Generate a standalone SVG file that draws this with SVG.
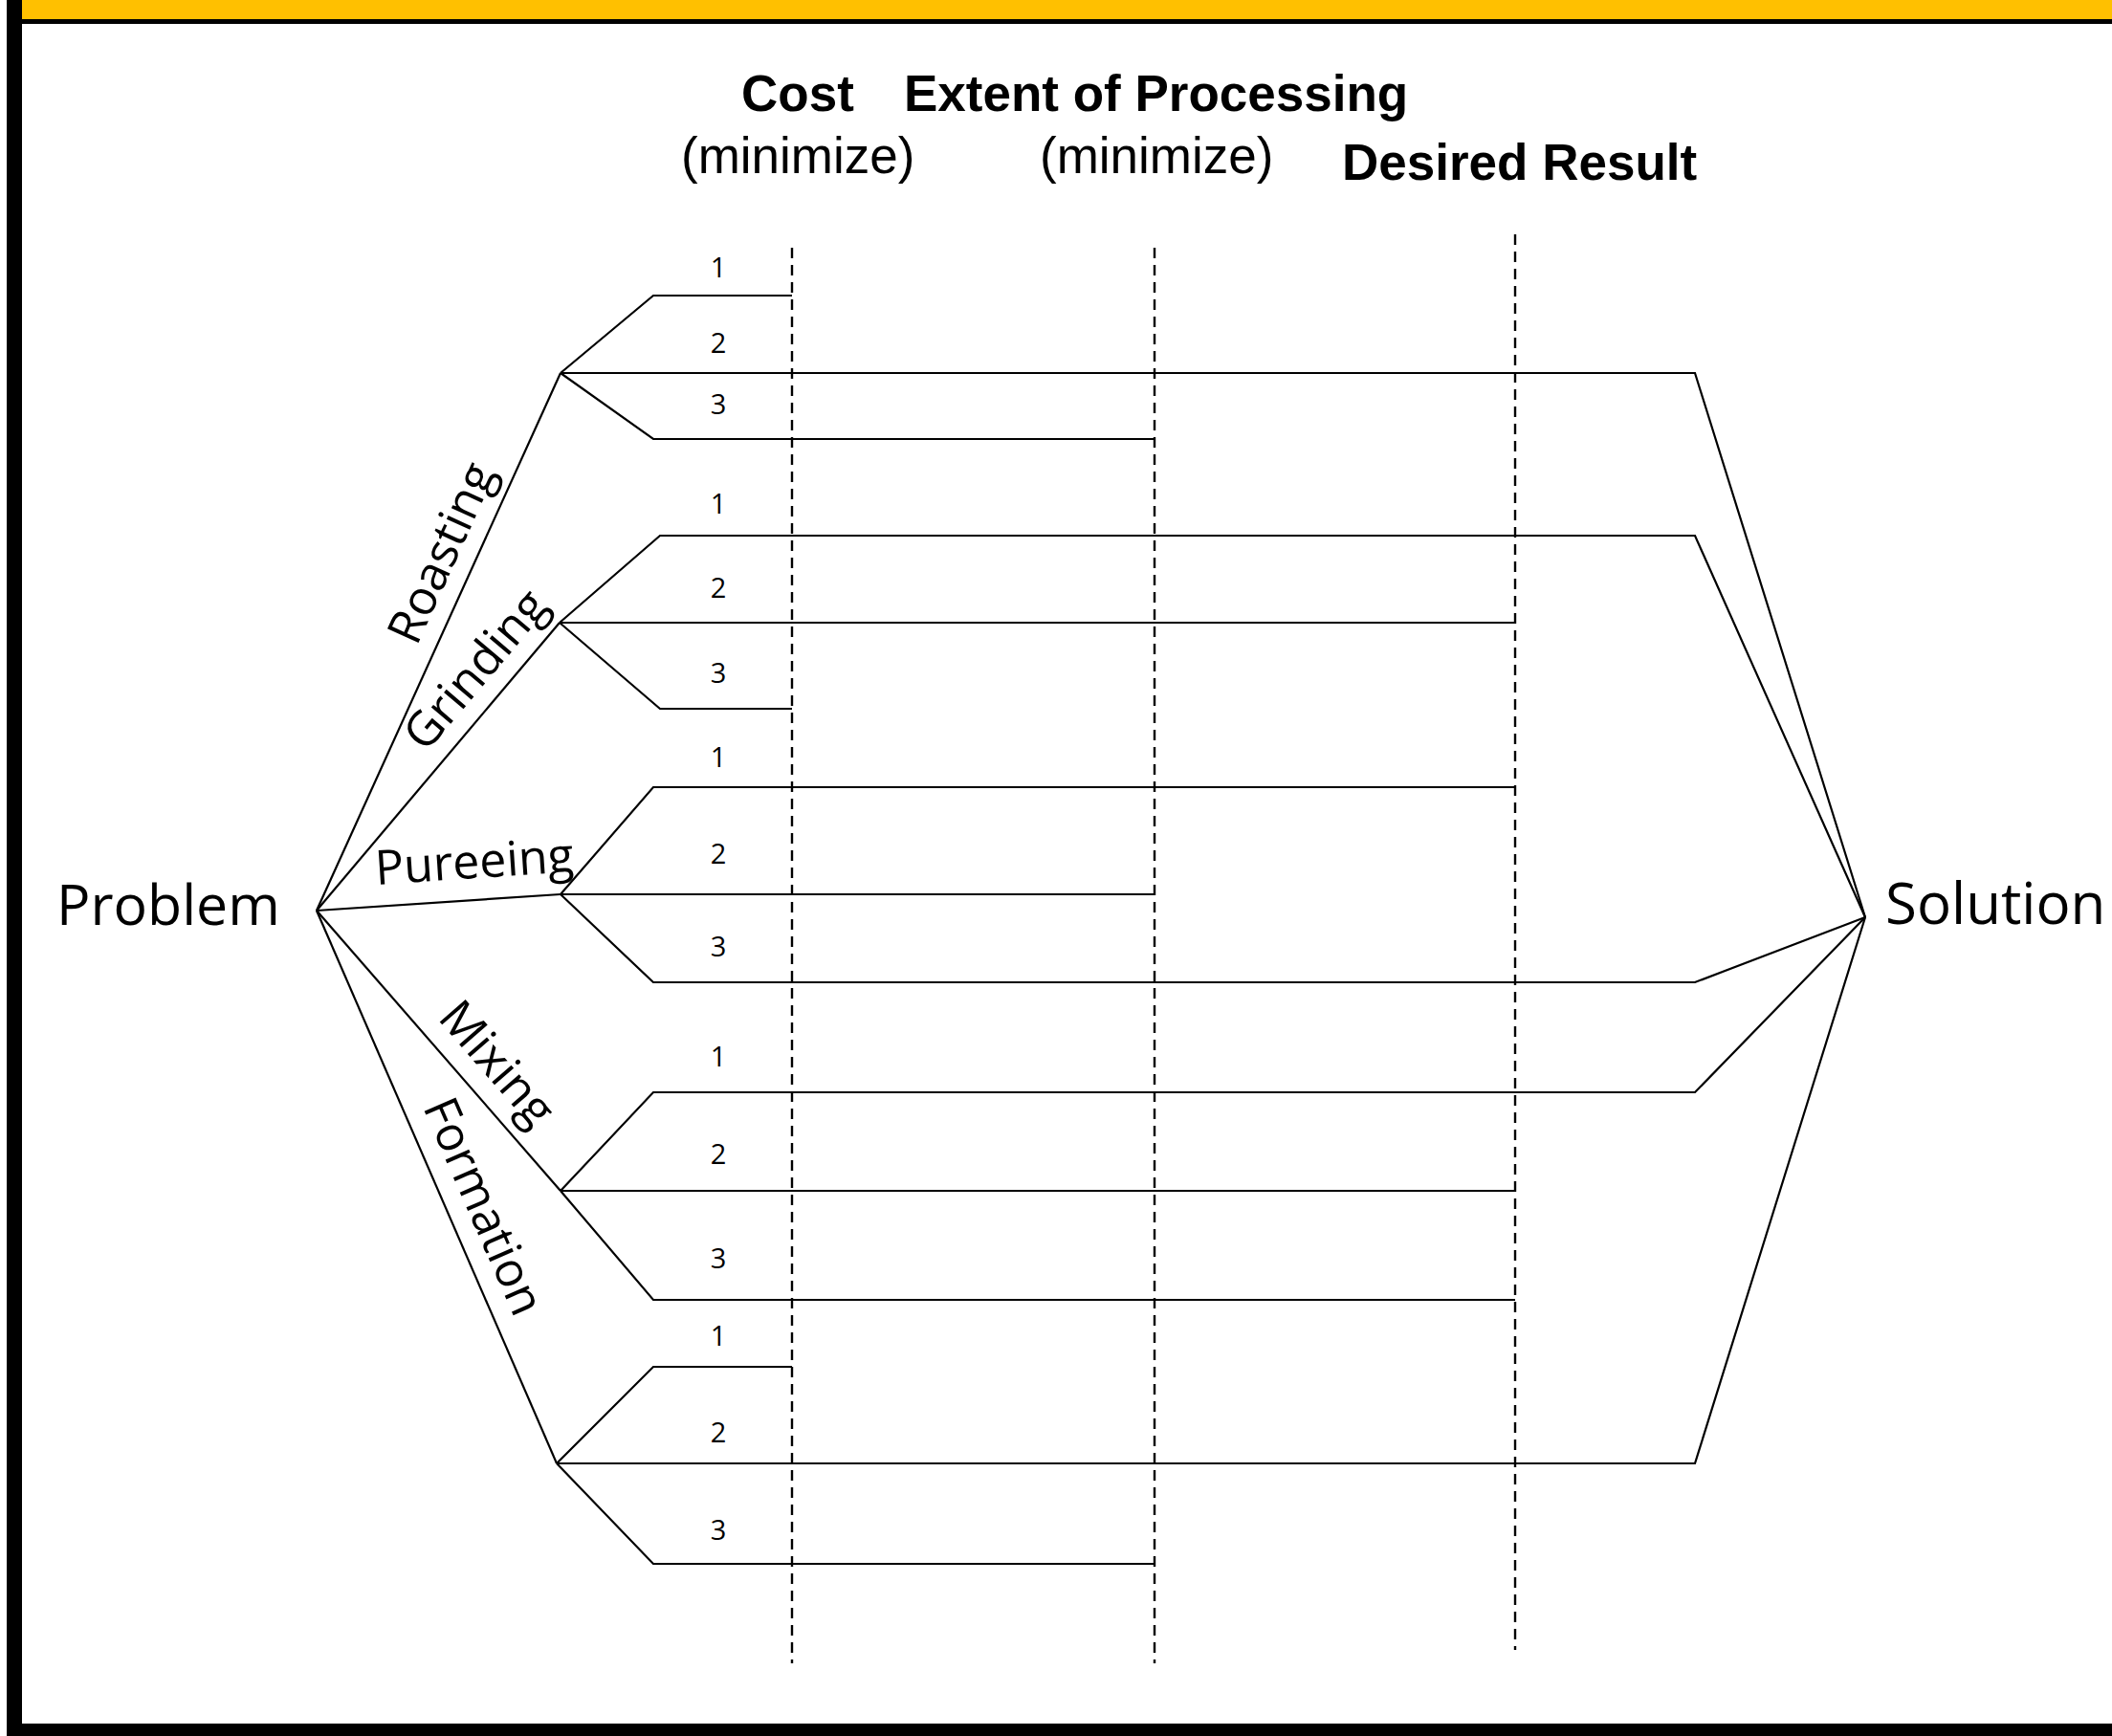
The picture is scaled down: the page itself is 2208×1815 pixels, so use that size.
<svg xmlns="http://www.w3.org/2000/svg" width="2208" height="1815" viewBox="0 0 2208 1815">
<style>
.ln{fill:none;stroke:#000;stroke-width:2.2;stroke-linejoin:miter}
.dash{fill:none;stroke:#000;stroke-width:2.4;stroke-dasharray:11 7}
.hd{font-family:"Liberation Sans",Arial,sans-serif;font-weight:bold;font-size:53px;fill:#000}
.sub{font-family:"Liberation Sans",Arial,sans-serif;font-size:53px;fill:#000}
.big{font-family:"Open Sans","Noto Sans",sans-serif;font-size:59px;fill:#000}
.lbl{font-family:"Open Sans","Noto Sans",sans-serif;font-size:50px;fill:#000;text-anchor:middle}
.num{font-family:"Open Sans","Noto Sans",sans-serif;font-size:29px;fill:#000;text-anchor:middle}
</style>
<rect width="2208" height="1815" fill="#fff"/>
<g id="frame">
<rect x="23" y="0" width="2185" height="20" fill="#FFC000"/>
<rect x="23" y="20" width="2185" height="5" fill="#000"/>
<rect x="7" y="0" width="16" height="1815" fill="#000"/>
<rect x="7" y="1802" width="2201" height="13" fill="#000"/>
</g>
<g id="headers">
<text class="hd" x="775" y="116">Cost</text>
<text class="sub" x="712" y="181">(minimize)</text>
<text class="hd" x="945" y="116">Extent of Processing</text>
<text class="sub" x="1087" y="181">(minimize)</text>
<text class="hd" x="1403" y="188">Desired Result</text>
</g>
<g id="criteria-lines">
<line class="dash" x1="828" y1="259" x2="828" y2="1739"/>
<line class="dash" x1="1207" y1="259" x2="1207" y2="1739"/>
<line class="dash" x1="1584" y1="245" x2="1584" y2="1725"/>
</g>
<g id="connectors">
<polyline class="ln" points="331,952 586,390"/>
<polyline class="ln" points="331,952 585,651"/>
<polyline class="ln" points="331,952 586,935"/>
<polyline class="ln" points="331,952 586,1245"/>
<polyline class="ln" points="331,952 582,1530"/>
<polyline class="ln" points="586,390 683,309 828,309"/>
<polyline class="ln" points="586,390 1772,390 1950,959"/>
<polyline class="ln" points="586,390 683,459 1207,459"/>
<polyline class="ln" points="585,651 690,560 1772,560 1950,959"/>
<polyline class="ln" points="585,651 1584,651"/>
<polyline class="ln" points="585,651 690,741 828,741"/>
<polyline class="ln" points="586,935 683,823 1584,823"/>
<polyline class="ln" points="586,935 1207,935"/>
<polyline class="ln" points="586,935 683,1027 1772,1027 1950,959"/>
<polyline class="ln" points="586,1245 683,1142 1772,1142 1950,959"/>
<polyline class="ln" points="586,1245 1584,1245"/>
<polyline class="ln" points="586,1245 683,1359 1584,1359"/>
<polyline class="ln" points="582,1530 683,1429 828,1429"/>
<polyline class="ln" points="582,1530 1772,1530 1950,959"/>
<polyline class="ln" points="582,1530 683,1635 1207,1635"/>
</g>
<g id="problem"><text class="big" x="59" y="967">Problem</text></g>
<g id="solution"><text class="big" x="1971" y="966" style="font-size:60px">Solution</text></g>
<g id="roasting">
<text class="lbl" transform="translate(477,585) rotate(-65.6)">Roasting</text>
<text class="num" x="751" y="290">1</text>
<text class="num" x="751" y="369">2</text>
<text class="num" x="751" y="433">3</text>
</g>
<g id="grinding">
<text class="lbl" transform="translate(510,711) rotate(-49.8)">Grinding</text>
<text class="num" x="751" y="537">1</text>
<text class="num" x="751" y="625">2</text>
<text class="num" x="751" y="714">3</text>
</g>
<g id="pureeing">
<text class="lbl" transform="translate(497,918) rotate(-3.8)">Pureeing</text>
<text class="num" x="751" y="802">1</text>
<text class="num" x="751" y="903">2</text>
<text class="num" x="751" y="1000">3</text>
</g>
<g id="mixing">
<text class="lbl" transform="translate(507,1123) rotate(49)">Mixing</text>
<text class="num" x="751" y="1115">1</text>
<text class="num" x="751" y="1217">2</text>
<text class="num" x="751" y="1326">3</text>
</g>
<g id="formation">
<text class="lbl" transform="translate(490,1268) rotate(66.5)">Formation</text>
<text class="num" x="751" y="1407">1</text>
<text class="num" x="751" y="1508">2</text>
<text class="num" x="751" y="1610">3</text>
</g>
</svg>
